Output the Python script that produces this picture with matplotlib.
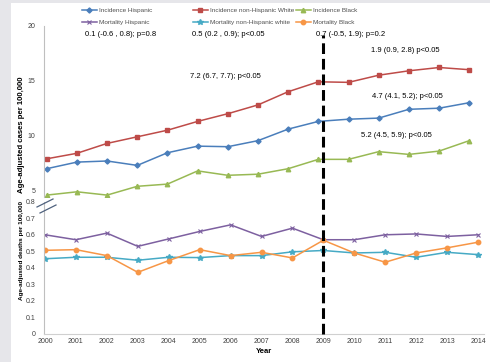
import matplotlib
matplotlib.use("Agg")
import matplotlib.pyplot as plt
from matplotlib.lines import Line2D
from matplotlib.patches import Rectangle

plt.rcParams['font.family'] = ['Liberation Sans', 'DejaVu Sans']

years = list(range(2000, 2015))

# Incidence (age-adjusted cases per 100,000)
inc_hispanic = [7.0, 7.6, 7.7, 7.3, 8.45, 9.05, 9.0, 9.55, 10.6, 11.3, 11.5, 11.6, 12.4, 12.5, 13.0]
inc_nhw = [7.9, 8.4, 9.3, 9.9, 10.5, 11.3, 12.0, 12.8, 14.0, 14.9, 14.85, 15.5, 15.9, 16.2, 16.0]
inc_black = [4.6, 4.9, 4.6, 5.4, 5.6, 6.8, 6.4, 6.5, 7.0, 7.85, 7.85, 8.55, 8.3, 8.6, 9.55]

# Mortality (age-adjusted deaths per 100,000)
mort_hispanic = [0.60, 0.57, 0.61, 0.53, 0.575, 0.62, 0.66, 0.59, 0.64, 0.57, 0.57, 0.60, 0.605, 0.59, 0.60]
mort_nhw = [0.455, 0.464, 0.464, 0.446, 0.464, 0.462, 0.474, 0.474, 0.497, 0.505, 0.49, 0.494, 0.464, 0.494, 0.48]
mort_black = [0.506, 0.51, 0.474, 0.373, 0.444, 0.51, 0.474, 0.494, 0.46, 0.567, 0.49, 0.434, 0.49, 0.521, 0.555]

joinpoint_year = 2009

top_yticks = [5, 10, 15, 20]
bot_yticks = [0, 0.1, 0.2, 0.3, 0.4, 0.5, 0.6, 0.7, 0.8]
bot_yticklabels = ['0', '0.1', '0.2', '0.3', '0.4', '0.5', '0.6', '0.7', '0.8']

annotations = [
    ("0.1 (-0.6 , 0.8); p=0.8", 85, 35),
    ("0.5 (0.2 , 0.9); p<0.05", 192, 35),
    ("0.7 (-0.5, 1.9); p=0.2", 316, 35),
    ("1.9 (0.9, 2.8) p<0.05", 371, 50),
    ("7.2 (6.7, 7.7); p<0.05", 190, 77),
    ("4.7 (4.1, 5.2); p<0.05", 372, 97),
    ("5.2 (4.5, 5.9); p<0.05", 361, 136),
]

C_BLUE = '#4A7EBB'
C_RED = '#BE4B48'
C_GREEN = '#98B954'
C_PURPLE = '#7D60A0'
C_CYAN = '#46AAC5'
C_ORANGE = '#F79646'

W, H = 490, 362
fig = plt.figure(figsize=(W / 100, H / 100), dpi=100)
fig.patch.set_facecolor('white')


def fx(px):
    return px / W


def fy(py):
    return 1 - py / H


# grey frame strips
fig.patches.append(Rectangle((0, 0), fx(11), 1, transform=fig.transFigure,
                             facecolor='#E6E6EA', edgecolor='none', zorder=0))
fig.patches.append(Rectangle((0, fy(3)), 1, 3 / H, transform=fig.transFigure,
                             facecolor='#E6E6EA', edgecolor='none', zorder=0))

# upper panel: incidence
top_left, top_right, top_top, top_bot = 43.7, 472.3, 25.7, 197.3
ax_top = fig.add_axes([fx(top_left), fy(top_bot), (top_right - top_left) / W, (top_bot - top_top) / H])
ax_top.set_xlim(1999.9, 2014.1)
ax_top.set_ylim(4.4, 20)

# lower panel: mortality
bot_left, bot_right, bot_top, bot_bot = 44.0, 484.2, 201.7, 334.0
ax_bot = fig.add_axes([fx(bot_left), fy(bot_bot), (bot_right - bot_left) / W, (bot_bot - bot_top) / H])
ax_bot.set_xlim(1999.968, 2014.2)
ax_bot.set_ylim(0, 0.8)

lw = 1.1
ms = 3.2
ax_top.plot(years, inc_hispanic, color=C_BLUE, lw=lw, marker='D', ms=ms - 0.6, label='Incidence Hispanic')
ax_top.plot(years, inc_nhw, color=C_RED, lw=lw, marker='s', ms=ms, label='Incidence non-Hispanic White')
ax_top.plot(years, inc_black, color=C_GREEN, lw=lw, marker='^', ms=ms, label='Incidence Black')

ax_bot.plot(years, mort_hispanic, color=C_PURPLE, lw=lw, marker='x', ms=ms, mew=0.8, label='Mortality Hispanic')
ax_bot.plot(years, mort_nhw, color=C_CYAN, lw=lw, marker='*', ms=ms + 1, label='Mortality non-Hispanic white')
ax_bot.plot(years, mort_black, color=C_ORANGE, lw=lw, marker='o', ms=ms, label='Mortality Black')

for ax in (ax_top, ax_bot):
    ax.set_facecolor('none')
    for s in ('top', 'right'):
        ax.spines[s].set_visible(False)
    ax.spines['left'].set_color('#BFBFBF')
    ax.spines['left'].set_linewidth(0.8)
    ax.tick_params(axis='y', length=0, labelsize=5, colors='#404040', pad=6)
    ax.tick_params(axis='x', length=0, labelsize=5, colors='#404040', pad=3)

ax_top.spines['bottom'].set_visible(False)
ax_top.set_xticks([])
ax_top.set_yticks(top_yticks)

ax_bot.spines['bottom'].set_color('#D0D0D0')
ax_bot.spines['bottom'].set_linewidth(0.8)
ax_bot.set_xticks(years)
ax_bot.set_xticklabels([str(y) for y in years])
ax_bot.set_yticks(bot_yticks)
ax_bot.set_yticklabels(bot_yticklabels)
ax_bot.set_xlabel('Year', fontsize=5.5, fontweight='bold', labelpad=2)

fig.text(fx(21.5), fy(135), 'Age-adjusted cases per 100,000', rotation=90,
         fontsize=5.6, fontweight='bold', ha='center', va='center')
fig.text(fx(21.5), fy(251), 'Age-adjusted deaths per 100,000', rotation=90,
         fontsize=4.6, fontweight='bold', ha='center', va='center')

# joinpoint marker at 2009 spanning both panels
ymax = (bot_bot - 35) / (bot_bot - bot_top)
ax_bot.axvline(joinpoint_year, ymin=0, ymax=ymax, color='black', lw=2.2,
               ls=(0, (3.5, 1.6)), clip_on=False, zorder=5)

# axis break marks
for (x0, y0, x1, y1) in [(37, 207, 53, 199), (40, 213, 56, 205)]:
    fig.add_artist(Line2D([fx(x0), fx(x1)], [fy(y0), fy(y1)], transform=fig.transFigure,
                          color='#50627E', lw=0.9))

for txt, px, py in annotations:
    fig.text(fx(px), fy(py), txt, fontsize=5.5, ha='left', va='center', color='black')

# legend in three columns
handles_top, labels_top = ax_top.get_legend_handles_labels()
handles_bot, labels_bot = ax_bot.get_legend_handles_labels()
col_x = [82, 193, 296]
for i, x in enumerate(col_x):
    fig.legend([handles_top[i], handles_bot[i]], [labels_top[i], labels_bot[i]],
               loc='upper left', bbox_to_anchor=(fx(x), fy(8)), frameon=False,
               fontsize=4.6, handlelength=2.3, handletextpad=0.3, labelspacing=1.0,
               borderpad=0, borderaxespad=0, labelcolor='#505050')

fig.savefig('out.png', dpi=100)
